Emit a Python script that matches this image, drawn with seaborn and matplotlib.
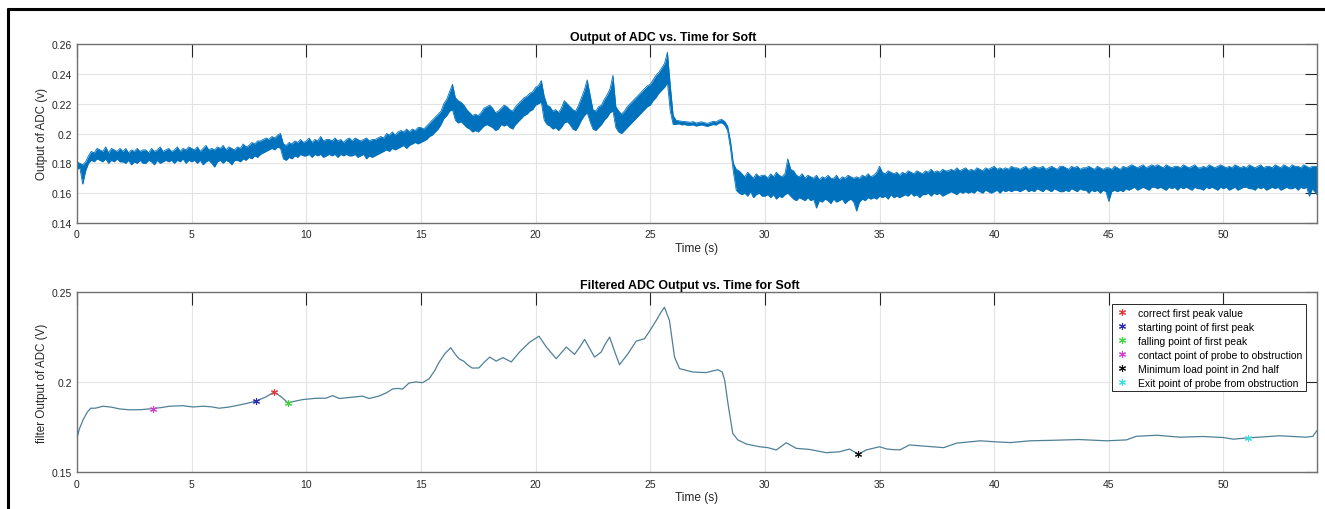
import numpy as np
import matplotlib
matplotlib.use("Agg")
import matplotlib.pyplot as plt
from matplotlib.lines import Line2D
import seaborn as sns

# ---------------- data ----------------
# Raw ADC output: upper / lower extent of the noisy trace, every 0.125 s
raw_time = np.append(np.arange(0, 54.0, 0.125), 54.08)
raw_high = [
    0.181, 0.180, 0.179, 0.181, 0.185, 0.188, 0.187, 0.190,
    0.189, 0.188, 0.191, 0.187, 0.190, 0.189, 0.188, 0.190,
    0.188, 0.190, 0.187, 0.189, 0.188, 0.190, 0.188, 0.189,
    0.189, 0.187, 0.190, 0.188, 0.189, 0.191, 0.188, 0.189,
    0.190, 0.188, 0.189, 0.191, 0.188, 0.190, 0.189, 0.191,
    0.190, 0.189, 0.191, 0.188, 0.190, 0.192, 0.189, 0.190,
    0.189, 0.191, 0.190, 0.192, 0.189, 0.191, 0.190, 0.189,
    0.191, 0.190, 0.193, 0.191, 0.192, 0.194, 0.193, 0.195,
    0.195, 0.196, 0.197, 0.196, 0.198, 0.197, 0.199, 0.200,
    0.193, 0.192, 0.194, 0.193, 0.195, 0.194, 0.196, 0.194,
    0.195, 0.197, 0.194, 0.196, 0.195, 0.198, 0.195, 0.196,
    0.196, 0.195, 0.197, 0.195, 0.196, 0.194, 0.196, 0.197,
    0.195, 0.197, 0.196, 0.195, 0.196, 0.197, 0.195, 0.196,
    0.196, 0.197, 0.198, 0.197, 0.200, 0.199, 0.201, 0.199,
    0.201, 0.202, 0.201, 0.203, 0.201, 0.203, 0.202, 0.204,
    0.204, 0.203, 0.205, 0.207, 0.209, 0.211, 0.213, 0.215,
    0.220, 0.223, 0.228, 0.233, 0.224, 0.222, 0.221, 0.219,
    0.216, 0.214, 0.212, 0.213, 0.212, 0.214, 0.217, 0.218,
    0.219, 0.217, 0.214, 0.215, 0.217, 0.219, 0.218, 0.216,
    0.215, 0.218, 0.220, 0.222, 0.224, 0.225, 0.227, 0.228,
    0.231, 0.232, 0.2355, 0.225, 0.219, 0.218, 0.215, 0.216,
    0.214, 0.217, 0.222, 0.220, 0.218, 0.216, 0.215, 0.219,
    0.224, 0.229, 0.236, 0.226, 0.216, 0.215, 0.218, 0.219,
    0.223, 0.226, 0.230, 0.239, 0.218, 0.215, 0.213, 0.215,
    0.218, 0.220, 0.222, 0.224, 0.226, 0.228, 0.230, 0.232,
    0.233, 0.236, 0.239, 0.241, 0.244, 0.247, 0.2545, 0.232,
    0.212, 0.2090, 0.2085, 0.2082, 0.2080, 0.2078, 0.2075, 0.2080,
    0.2070, 0.2076, 0.2078, 0.2072, 0.2068, 0.2075, 0.2082, 0.2078,
    0.2090, 0.2094, 0.2080, 0.2050, 0.1950, 0.1800, 0.1760, 0.1750,
    0.173, 0.171, 0.174, 0.172, 0.170, 0.173, 0.171, 0.172,
    0.172, 0.170, 0.173, 0.171, 0.174, 0.172, 0.171, 0.173,
    0.183, 0.176, 0.175, 0.172, 0.171, 0.173, 0.170, 0.172,
    0.171, 0.170, 0.172, 0.169, 0.171, 0.170, 0.172, 0.170,
    0.170, 0.172, 0.169, 0.171, 0.170, 0.172, 0.171, 0.170,
    0.171, 0.170, 0.172, 0.171, 0.173, 0.171, 0.172, 0.174,
    0.178, 0.174, 0.173, 0.175, 0.174, 0.173, 0.174, 0.172,
    0.174, 0.173, 0.175, 0.174, 0.173, 0.175, 0.174, 0.173,
    0.175, 0.174, 0.176, 0.174, 0.175, 0.174, 0.176, 0.175,
    0.175, 0.176, 0.175, 0.177, 0.175, 0.176, 0.177, 0.175,
    0.176, 0.175, 0.177, 0.176, 0.175, 0.177, 0.176, 0.177,
    0.178, 0.176, 0.177, 0.176, 0.177, 0.176, 0.178, 0.177,
    0.177, 0.176, 0.177, 0.178, 0.176, 0.177, 0.178, 0.177,
    0.177, 0.178, 0.176, 0.177, 0.178, 0.177, 0.176, 0.178,
    0.178, 0.177, 0.176, 0.178, 0.177, 0.178, 0.176, 0.177,
    0.177, 0.178, 0.177, 0.176, 0.178, 0.177, 0.176, 0.177,
    0.177, 0.176, 0.178, 0.177, 0.176, 0.178, 0.177, 0.178,
    0.179, 0.178, 0.177, 0.178, 0.179, 0.177, 0.178, 0.179,
    0.178, 0.179, 0.178, 0.177, 0.179, 0.178, 0.177, 0.178,
    0.178, 0.177, 0.179, 0.178, 0.177, 0.178, 0.179, 0.177,
    0.177, 0.178, 0.177, 0.179, 0.178, 0.177, 0.178, 0.179,
    0.178, 0.177, 0.178, 0.177, 0.179, 0.178, 0.177, 0.178,
    0.177, 0.179, 0.178, 0.177, 0.178, 0.179, 0.177, 0.178,
    0.178, 0.177, 0.179, 0.178, 0.177, 0.179, 0.178, 0.177,
    0.179, 0.178, 0.178, 0.177, 0.179, 0.178, 0.177, 0.178,
    0.178,
]
raw_low = [
    0.176, 0.177, 0.166, 0.175, 0.180, 0.182, 0.181, 0.183,
    0.182, 0.181, 0.183, 0.180, 0.182, 0.181, 0.183, 0.181,
    0.181, 0.180, 0.182, 0.179, 0.181, 0.180, 0.182, 0.180,
    0.180, 0.182, 0.181, 0.179, 0.182, 0.180, 0.181, 0.182,
    0.181, 0.182, 0.180, 0.182, 0.181, 0.183, 0.180, 0.182,
    0.181, 0.182, 0.180, 0.182, 0.179, 0.181, 0.182, 0.180,
    0.1775, 0.181, 0.182, 0.180, 0.182, 0.181, 0.179, 0.182,
    0.182, 0.181, 0.183, 0.182, 0.184, 0.183, 0.185, 0.184,
    0.186, 0.187, 0.188, 0.189, 0.190, 0.189, 0.191, 0.190,
    0.183, 0.182, 0.184, 0.183, 0.185, 0.184, 0.186, 0.185,
    0.185, 0.186, 0.184, 0.186, 0.185, 0.186, 0.184, 0.185,
    0.186, 0.185, 0.186, 0.184, 0.186, 0.185, 0.186, 0.185,
    0.185, 0.186, 0.184, 0.185, 0.186, 0.183, 0.185, 0.184,
    0.185, 0.186, 0.187, 0.188, 0.189, 0.188, 0.190, 0.189,
    0.190, 0.191, 0.192, 0.190, 0.192, 0.193, 0.194, 0.193,
    0.194, 0.195, 0.196, 0.198, 0.199, 0.201, 0.203, 0.206,
    0.210, 0.212, 0.215, 0.216, 0.209, 0.207, 0.208, 0.206,
    0.204, 0.203, 0.201, 0.202, 0.201, 0.203, 0.205, 0.206,
    0.205, 0.204, 0.202, 0.203, 0.206, 0.205, 0.206, 0.204,
    0.203, 0.206, 0.208, 0.210, 0.212, 0.213, 0.215, 0.216,
    0.219, 0.220, 0.221, 0.209, 0.206, 0.205, 0.203, 0.204,
    0.202, 0.204, 0.207, 0.208, 0.206, 0.203, 0.202, 0.205,
    0.209, 0.212, 0.214, 0.208, 0.203, 0.202, 0.204, 0.206,
    0.209, 0.211, 0.214, 0.215, 0.204, 0.201, 0.200, 0.202,
    0.204, 0.206, 0.208, 0.210, 0.212, 0.214, 0.216, 0.218,
    0.219, 0.222, 0.224, 0.227, 0.229, 0.231, 0.234, 0.215,
    0.2060, 0.2062, 0.2065, 0.2058, 0.2060, 0.2055, 0.2056, 0.2058,
    0.2050, 0.2054, 0.2058, 0.2052, 0.2048, 0.2055, 0.2060, 0.2057,
    0.2070, 0.2072, 0.2055, 0.2020, 0.1900, 0.1745, 0.1620, 0.1600,
    0.159, 0.160, 0.158, 0.161, 0.157, 0.159, 0.160, 0.158,
    0.158, 0.159, 0.157, 0.159, 0.156, 0.158, 0.157, 0.159,
    0.160, 0.158, 0.156, 0.155, 0.157, 0.156, 0.155, 0.157,
    0.155, 0.156, 0.150, 0.155, 0.154, 0.156, 0.155, 0.153,
    0.156, 0.154, 0.155, 0.156, 0.153, 0.155, 0.156, 0.154,
    0.148, 0.154, 0.156, 0.155, 0.157, 0.156, 0.157, 0.156,
    0.158, 0.157, 0.158, 0.156, 0.159, 0.157, 0.158, 0.157,
    0.158, 0.159, 0.158, 0.160, 0.158, 0.159, 0.157, 0.159,
    0.159, 0.160, 0.158, 0.160, 0.159, 0.160, 0.158, 0.159,
    0.160, 0.161, 0.160, 0.159, 0.161, 0.160, 0.161, 0.160,
    0.161, 0.160, 0.162, 0.161, 0.160, 0.162, 0.161, 0.160,
    0.161, 0.162, 0.160, 0.162, 0.161, 0.162, 0.161, 0.162,
    0.162, 0.161, 0.162, 0.163, 0.161, 0.162, 0.161, 0.163,
    0.162, 0.161, 0.163, 0.162, 0.161, 0.163, 0.162, 0.161,
    0.161, 0.162, 0.161, 0.163, 0.162, 0.161, 0.163, 0.162,
    0.162, 0.160, 0.162, 0.161, 0.162, 0.160, 0.162, 0.161,
    0.1545, 0.161, 0.162, 0.161, 0.162, 0.161, 0.163, 0.162,
    0.163, 0.164, 0.162, 0.163, 0.164, 0.163, 0.162, 0.164,
    0.164, 0.163, 0.164, 0.163, 0.162, 0.164, 0.163, 0.164,
    0.162, 0.164, 0.163, 0.164, 0.163, 0.162, 0.164, 0.163,
    0.163, 0.162, 0.164, 0.163, 0.164, 0.163, 0.162, 0.164,
    0.163, 0.164, 0.162, 0.163, 0.164, 0.162, 0.163, 0.164,
    0.164, 0.163, 0.163, 0.162, 0.164, 0.163, 0.164, 0.162,
    0.163, 0.164, 0.163, 0.164, 0.162, 0.163, 0.164, 0.163,
    0.163, 0.164, 0.162, 0.164, 0.163, 0.164, 0.158, 0.163,
    0.159,
]

# Filtered ADC output
filt_time = [
    0.0, 0.1, 0.26, 0.45, 0.6, 0.8, 1.13, 1.5, 1.86, 2.3, 2.8, 3.3, 3.7, 4.03,
    4.6, 5.05, 5.5, 5.85, 6.2, 6.6, 6.94, 7.37, 7.8, 8.24, 8.6, 8.9, 9.2, 9.5,
    9.84, 10.4, 10.86, 11.15, 11.44, 12.0, 12.45, 12.74, 13.18, 13.5, 13.76,
    14.0, 14.2, 14.48, 14.78, 15.07, 15.36, 15.6, 15.8, 16.05, 16.3, 16.5,
    16.66, 16.88, 17.05, 17.24, 17.53, 17.75, 18.0, 18.28, 18.58, 18.94, 19.3,
    19.74, 20.15, 20.47, 20.9, 21.34, 21.7, 21.95, 22.14, 22.35, 22.57, 22.86,
    23.05, 23.23, 23.45, 23.66, 24.03, 24.39, 24.75, 25.0, 25.26, 25.45, 25.62,
    25.84, 26.06, 26.28, 26.86, 27.44, 27.95, 28.14, 28.25, 28.39, 28.6, 28.82,
    29.19, 29.77, 30.13, 30.5, 30.93, 31.37, 31.95, 32.67, 33.26, 33.69, 34.08,
    34.42, 35.0, 35.3, 35.6, 35.9, 36.3, 37.2, 37.8, 38.36, 39.4, 39.96, 40.7,
    41.56, 42.6, 43.7, 44.9, 45.77, 46.2, 47.1, 48.1, 49.1, 50.0, 50.43, 51.05,
    51.74, 52.47, 53.6, 53.9, 54.08,
]
filt_value = [
    0.1688, 0.1740, 0.1790, 0.1835, 0.1856, 0.1856, 0.1867, 0.1862, 0.1852,
    0.1847, 0.1848, 0.1854, 0.1860, 0.1867, 0.1870, 0.1863, 0.1867, 0.1864,
    0.1856, 0.1862, 0.1870, 0.1882, 0.1895, 0.1919, 0.1946, 0.1920, 0.1886,
    0.1895, 0.1904, 0.1911, 0.1912, 0.1926, 0.1910, 0.1917, 0.1923, 0.1910,
    0.1924, 0.1942, 0.1963, 0.1966, 0.1962, 0.1996, 0.2002, 0.1998, 0.2020,
    0.2065, 0.2113, 0.2160, 0.2192, 0.2155, 0.2131, 0.2116, 0.2095, 0.2079,
    0.2080, 0.2110, 0.2140, 0.2118, 0.2137, 0.2113, 0.2168, 0.2223, 0.2256,
    0.2196, 0.2131, 0.2196, 0.2155, 0.2200, 0.2238, 0.2190, 0.2140, 0.2168,
    0.2215, 0.2251, 0.2170, 0.2098, 0.2159, 0.2229, 0.2242, 0.2290, 0.2343,
    0.2385, 0.2417, 0.2343, 0.2140, 0.2076, 0.2057, 0.2054, 0.2070, 0.2057,
    0.2010, 0.1882, 0.1716, 0.1680, 0.1657, 0.1642, 0.1637, 0.1624, 0.1664,
    0.1633, 0.1627, 0.1609, 0.1614, 0.1629, 0.1601, 0.1624, 0.1642, 0.1630,
    0.1626, 0.1625, 0.1652, 0.1643, 0.1637, 0.1662, 0.1675, 0.1670, 0.1665,
    0.1675, 0.1678, 0.1682, 0.1675, 0.1680, 0.1700, 0.1706, 0.1695, 0.1699,
    0.1693, 0.1684, 0.1691, 0.1697, 0.1703, 0.1695, 0.1700, 0.1732,
]

# Detected key points on the filtered trace
point_labels = [
    "correct first peak value",
    "starting point of first peak",
    "falling point of first peak",
    "contact point of probe to obstruction",
    "Minimum load point in 2nd half",
    "Exit point of probe from obstruction",
]
point_time = [8.6, 7.8, 9.2, 3.3, 34.08, 51.05]
point_value = [0.1946, 0.1895, 0.1886, 0.1854, 0.1601, 0.1691]
point_colors = ["#e03c3c", "#2b2bb8", "#3cd43c", "#d23cd2", "#111111", "#3cdede"]

top_yticks = [0.14, 0.16, 0.18, 0.20, 0.22, 0.24, 0.26]
top_yticklabels = ["0.14", "0.16", "0.18", "0.2", "0.22", "0.24", "0.26"]
bot_yticks = [0.15, 0.20, 0.25]
bot_yticklabels = ["0.15", "0.2", "0.25"]
xticks = [0, 5, 10, 15, 20, 25, 30, 35, 40, 45, 50]

# ---------------- style ----------------
sns.set_style("white")
plt.rcParams["font.family"] = ["Liberation Sans", "DejaVu Sans"]

ADC_BLUE = "#0072BD"
FILT_COLOR = "#4f8096"
TEXT = "#262626"
SPINE = "#707070"
GRID = "#e3e3e3"

fig = plt.figure(figsize=(13.25, 5.10), dpi=100)
fig.patch.set_facecolor("white")
W, H = 1325.0, 510.0
ax1 = fig.add_axes([77 / W, (H - 224) / H, 1240 / W, 179 / H])
ax2 = fig.add_axes([77 / W, (H - 473.3) / H, 1240 / W, 180 / H])


def style_axes(ax, yticks, ylabels, xpad):
    ax.set_xlim(0, 54.08)
    ax.set_xticks(xticks)
    ax.set_xticklabels([str(v) for v in xticks])
    ax.set_yticks(yticks)
    ax.set_yticklabels(ylabels)
    ax.set_ylim(yticks[0], yticks[-1])
    ax.grid(True, color=GRID, linewidth=0.8)
    ax.set_axisbelow(True)
    for s in ax.spines.values():
        s.set_visible(True)
        s.set_color(SPINE)
        s.set_linewidth(1.0)
    ax.tick_params(axis="both", direction="in", length=9, width=0.8,
                   colors=TEXT, labelsize=7.5, top=True, right=True)
    ax.tick_params(axis="x", pad=xpad)
    ax.tick_params(axis="y", pad=3.5)


# ---- top panel: raw ADC output ----
ax1.fill_between(raw_time, raw_low, raw_high, color=ADC_BLUE, linewidth=0)
sns.lineplot(x=raw_time, y=raw_high, ax=ax1, color=ADC_BLUE, linewidth=0.6)
sns.lineplot(x=raw_time, y=raw_low, ax=ax1, color=ADC_BLUE, linewidth=0.6)
style_axes(ax1, top_yticks, top_yticklabels, 4.3)
ax1.set_title("Output of ADC vs. Time for Soft", fontsize=8.9, fontweight="bold",
              color="black", pad=3)
ax1.title.set_x((663 - 77) / 1240)
ax1.set_xlabel("Time (s)", fontsize=8.6, color=TEXT, labelpad=2.5)
ax1.set_ylabel("Output of ADC (v)", fontsize=8.4, color=TEXT, labelpad=3)

# ---- bottom panel: filtered output with key points ----
sns.lineplot(x=filt_time, y=filt_value, ax=ax2, color=FILT_COLOR, linewidth=0.9)
for lbl, t, v, c in zip(point_labels, point_time, point_value, point_colors):
    ax2.plot([t], [v], linestyle="none", marker=(6, 2, 0), markersize=5,
             markeredgewidth=0.8, color=c, label=lbl)
style_axes(ax2, bot_yticks, bot_yticklabels, 5)
ax2.set_title("Filtered ADC Output vs. Time for Soft", fontsize=8.9,
              fontweight="bold", color="black", pad=3)
ax2.title.set_x((689.7 - 77) / 1240)
ax2.set_xlabel("Time (s)", fontsize=8.6, color=TEXT, labelpad=1.5)
ax2.set_ylabel("filter Output of ADC (V)", fontsize=8.4, color=TEXT, labelpad=3)

leg = ax2.legend(loc="upper right", bbox_to_anchor=(0.991, 0.933),
                 borderaxespad=0, fontsize=7.5, frameon=True, fancybox=False,
                 edgecolor=TEXT, framealpha=1, handlelength=1.2,
                 handletextpad=0.9, borderpad=0.35, labelspacing=0.38)
leg.get_frame().set_linewidth(0.7)
for txt in leg.get_texts():
    txt.set_color("black")

# frame around the figure (top and left edges)
fig.add_artist(Line2D([8 / W, 8 / W], [0, 1 - 10 / H], transform=fig.transFigure,
                      color="black", linewidth=2.2))
fig.add_artist(Line2D([8 / W, 1], [1 - 10 / H, 1 - 10 / H], transform=fig.transFigure,
                      color="black", linewidth=2.2))

fig.savefig("out.png", dpi=100, facecolor="white")
